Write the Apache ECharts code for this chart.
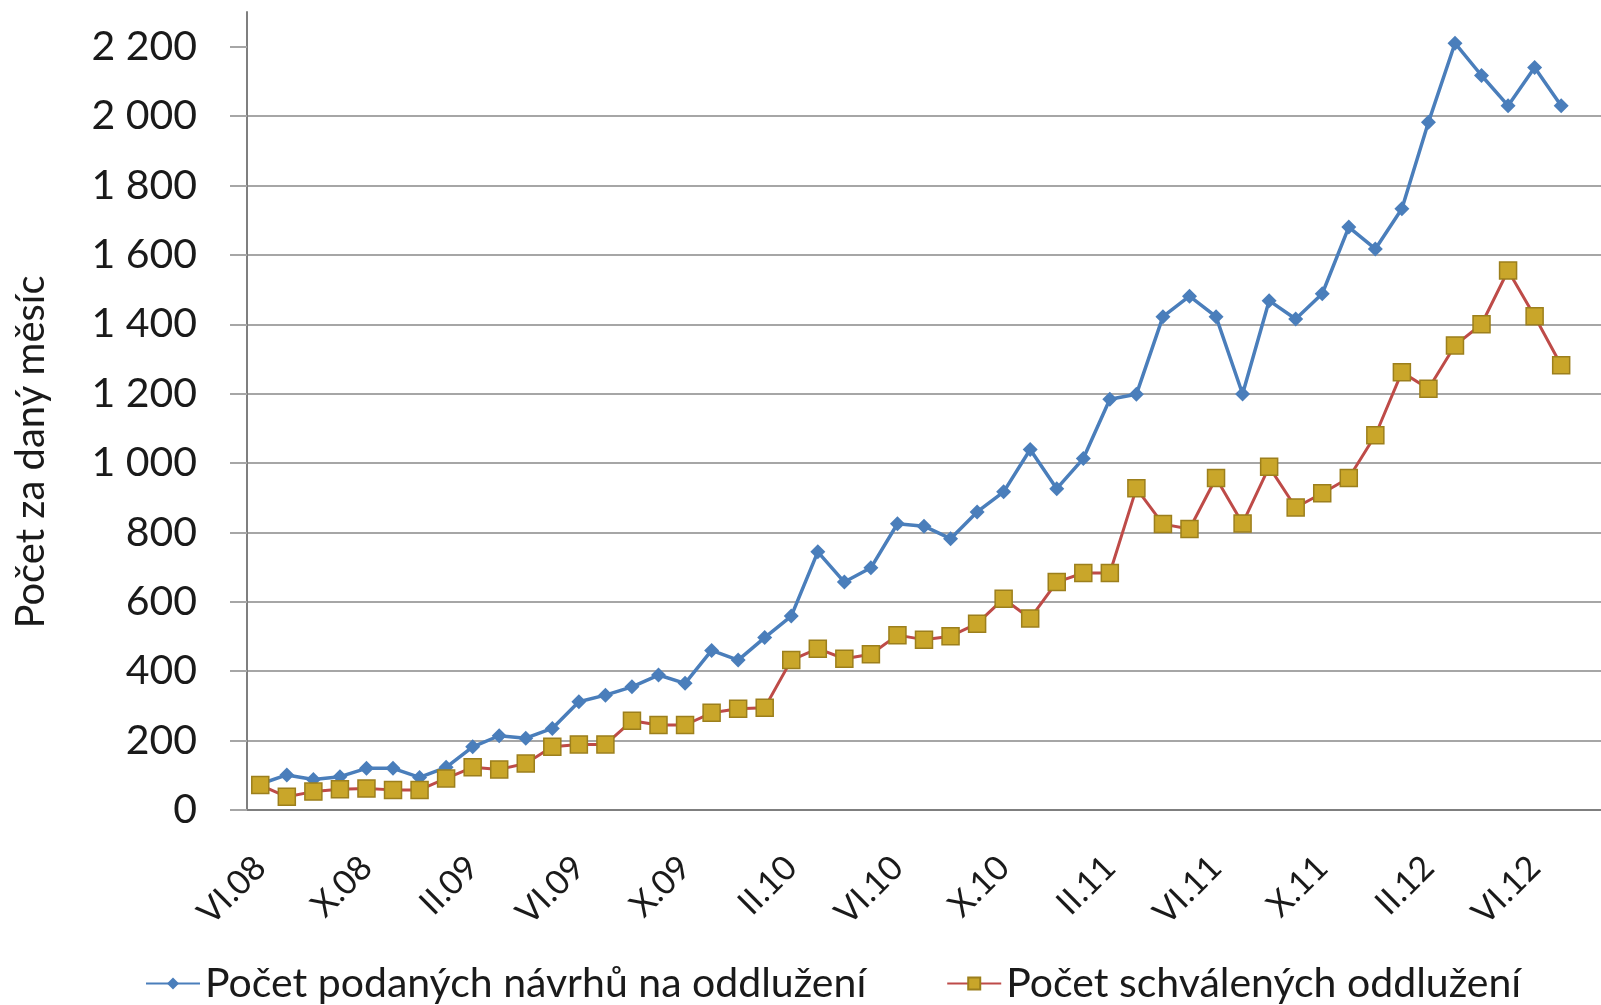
<!DOCTYPE html>
<html>
<head>
<meta charset="utf-8">
<script src="https://cdn.jsdelivr.net/npm/echarts@6/dist/echarts.min.js"></script>
<style>
  html, body { margin: 0; background: #fff; }
  #chart { width: 1601px; height: 1005px; }
</style>
</head>
<body>
<div id="chart"></div>
<script>
// months VI.08 .. VII.12 (last category is the empty month after the data)
var months = ['VI.08','VII.08','VIII.08','IX.08','X.08','XI.08','XII.08',
  'I.09','II.09','III.09','IV.09','V.09','VI.09','VII.09','VIII.09','IX.09','X.09','XI.09','XII.09',
  'I.10','II.10','III.10','IV.10','V.10','VI.10','VII.10','VIII.10','IX.10','X.10','XI.10','XII.10',
  'I.11','II.11','III.11','IV.11','V.11','VI.11','VII.11','VIII.11','IX.11','X.11','XI.11','XII.11',
  'I.12','II.12','III.12','IV.12','V.12','VI.12','VII.12','VIII.12'];

// Počet podaných návrhů na oddlužení
var podane = [75, 101, 88, 96, 120, 120, 94, 123, 182, 214,
  207, 235, 312, 331, 355, 389, 365, 460, 432, 497,
  559, 744, 657, 698, 825, 818, 782, 859, 917, 1039,
  926, 1013, 1184, 1198, 1422, 1481, 1422, 1199, 1468, 1415,
  1488, 1680, 1617, 1733, 1982, 2210, 2117, 2030, 2140, 2030];

// Počet schválených oddlužení
var schvalene = [72, 38, 53, 60, 62, 58, 58, 91, 123, 117,
  134, 182, 189, 189, 257, 245, 245, 280, 292, 295,
  432, 465, 436, 449, 504, 491, 501, 537, 609, 552,
  657, 683, 683, 927, 824, 810, 957, 826, 989, 872,
  913, 957, 1080, 1262, 1214, 1339, 1400, 1555, 1423, 1282];

var yTicks = [0, 200, 400, 600, 800, 1000, 1200, 1400, 1600, 1800, 2000, 2200];

var font = 'Lato';
var chart = echarts.init(document.getElementById('chart'));

function fmt(v) {
  // 2200 -> "2 200"
  var s = String(v);
  return s.length > 3 ? s.slice(0, s.length - 3) + ' ' + s.slice(-3) : s;
}

chart.setOption({
  animation: false,
  backgroundColor: '#fff',
  grid: { left: 247, top: 12, right: -11, bottom: 195 },
  legend: {
    left: 140,
    top: 958,
    itemWidth: 54,
    itemHeight: 15,
    itemGap: 80,
    textStyle: { fontFamily: font, fontSize: 41, color: '#1a1a1a' },
    data: ['Počet podaných návrhů na oddlužení', 'Počet schválených oddlužení']
  },
  xAxis: {
    type: 'category',
    data: months,
    boundaryGap: true,
    axisLine: { lineStyle: { color: '#7f7f7f', width: 2 } },
    axisTick: { interval: 3, length: 14, lineStyle: { color: '#7f7f7f', width: 2 } },
    axisLabel: {
      interval: 3,
      rotate: 45,
      margin: 52,
      fontFamily: font,
      fontSize: 34,
      color: '#1a1a1a'
    },
    splitLine: { show: false }
  },
  yAxis: {
    type: 'value',
    min: 0,
    max: 2300,
    interval: 100,
    name: 'Počet za daný měsíc',
    nameLocation: 'middle',
    nameGap: 196,
    nameTextStyle: { fontFamily: font, fontSize: 40, color: '#1a1a1a', padding: [0, 82, 0, 0] },
    axisLine: { show: true, lineStyle: { color: '#7f7f7f', width: 2 } },
    axisTick: { show: true, customValues: yTicks, length: 17, lineStyle: { color: '#a6a6a6', width: 2 } },
    axisLabel: {
      customValues: yTicks,
      margin: 50,
      fontFamily: font,
      fontSize: 41,
      color: '#1a1a1a',
      formatter: fmt
    },
    splitLine: {
      show: true,
      showMaxLine: false,
      interval: function (idx, val) { return val % 200 === 0; },
      lineStyle: { color: '#a6a6a6', width: 2 }
    }
  },
  series: [
    {
      name: 'Počet podaných návrhů na oddlužení',
      type: 'line',
      data: podane,
      symbol: 'diamond',
      symbolSize: 15,
      lineStyle: { color: '#4a7ebb', width: 3.5 },
      itemStyle: { color: '#4a7ebb' }
    },
    {
      name: 'Počet schválených oddlužení',
      type: 'line',
      data: schvalene,
      symbol: 'rect',
      symbolSize: 17,
      lineStyle: { color: '#be4b48', width: 3 },
      itemStyle: { color: '#c9a62a', borderColor: '#9c7f1c', borderWidth: 1.5 }
    }
  ]
});
</script>
</body>
</html>
